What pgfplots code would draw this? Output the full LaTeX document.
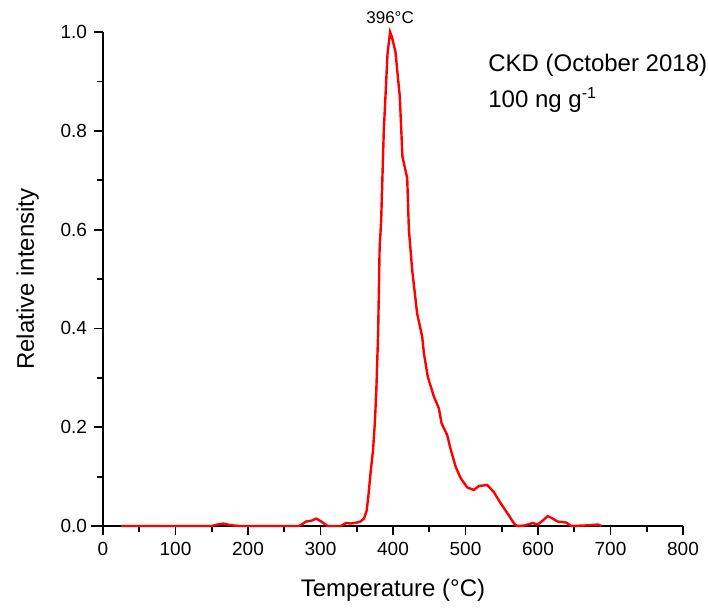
\documentclass[border=0pt]{standalone}
\usepackage{fontspec}
\setmainfont{Liberation Sans}
\usepackage{pgfplots}
\pgfplotsset{compat=1.18}
\begin{document}
\begin{tikzpicture}
\begin{axis}[
  scale only axis, width=290pt, height=247pt,
  xmin=0, xmax=800, ymin=0, ymax=1,
  axis x line*=bottom, axis y line*=left,
  axis line style={line width=1pt, -},
  tick align=outside,
  major tick length=4.5pt, minor tick length=3pt,
  every tick/.style={black, line width=0.9pt},
  xtick={0,100,...,800}, ytick={0,0.2,...,1.0},
  minor x tick num=1, minor y tick num=1,
  /pgf/number format/assume math mode=true,
  yticklabel style={/pgf/number format/fixed, /pgf/number format/fixed zerofill, /pgf/number format/precision=1, font=\fontsize{9.5}{11}\selectfont},
  xticklabel style={font=\fontsize{9.5}{11}\selectfont},
  xlabel={Temperature (°C)}, ylabel={Relative intensity},
  label style={font=\fontsize{12}{14}\selectfont},
  xlabel style={yshift=-5pt},
  ylabel style={yshift=4pt},
  clip=false,
]
\addplot[red, line width=1.2pt] coordinates {
(25,0) (150,0) (158,0.003) (166,0.005) (175,0.002) (188,0) (270,0) (275,0.004)
(280,0.009) (288,0.011) (294,0.015) (299,0.011) (305,0.005) (310,0) (328,0)
(335,0.006) (342,0.005) (350,0.007) (355,0.009) (360,0.015) (363.5,0.03)
(366,0.06) (369,0.107) (372.5,0.154) (375,0.21) (377,0.275) (379.5,0.39)
(381.5,0.56) (383.7,0.62) (387.3,0.80) (392.5,0.957) (396,1.0) (398.5,0.99)
(403.4,0.96) (406,0.92) (409.4,0.869) (413,0.748) (419.6,0.704) (421.9,0.60)
(426.5,0.518) (433.3,0.43) (440.3,0.383) (442.6,0.35) (448,0.302) (456.4,0.262)
(463.3,0.238) (467,0.208) (474.8,0.184) (478.5,0.161) (486.4,0.12) (493.3,0.097)
(502.5,0.078) (511.6,0.073) (518.5,0.081) (524,0.082) (530,0.083) (539,0.069)
(548.5,0.046) (557.8,0.026) (567,0.005) (571,0) (581,0.001) (592.6,0.006)
(599.5,0.003) (606.5,0.011) (613.4,0.02) (620.4,0.015) (627.3,0.009)
(638.9,0.007) (645.8,0) (664,0.001) (682.9,0.003) (687.5,0)
};
\draw[line width=1pt] (axis cs:0,0) -- ++(-6pt,0);
\node[anchor=south, font=\fontsize{8.5}{10}\selectfont, inner sep=1pt] at (axis cs:396,1.0) [yshift=3pt] {396°C};
\node[anchor=west, font=\fontsize{12}{14}\selectfont, inner sep=0pt] at (axis cs:531,0.932) {CKD (October 2018)};
\node[anchor=west, font=\fontsize{12}{14}\selectfont, inner sep=0pt] at (axis cs:531,0.862) {100 ng g\textsuperscript{-1}};
\end{axis}
\path ([shift={(-51.5pt,-41pt)}]current axis.south west) rectangle ([shift={(12.5pt,16pt)}]current axis.north east);
\end{tikzpicture}
\end{document}
